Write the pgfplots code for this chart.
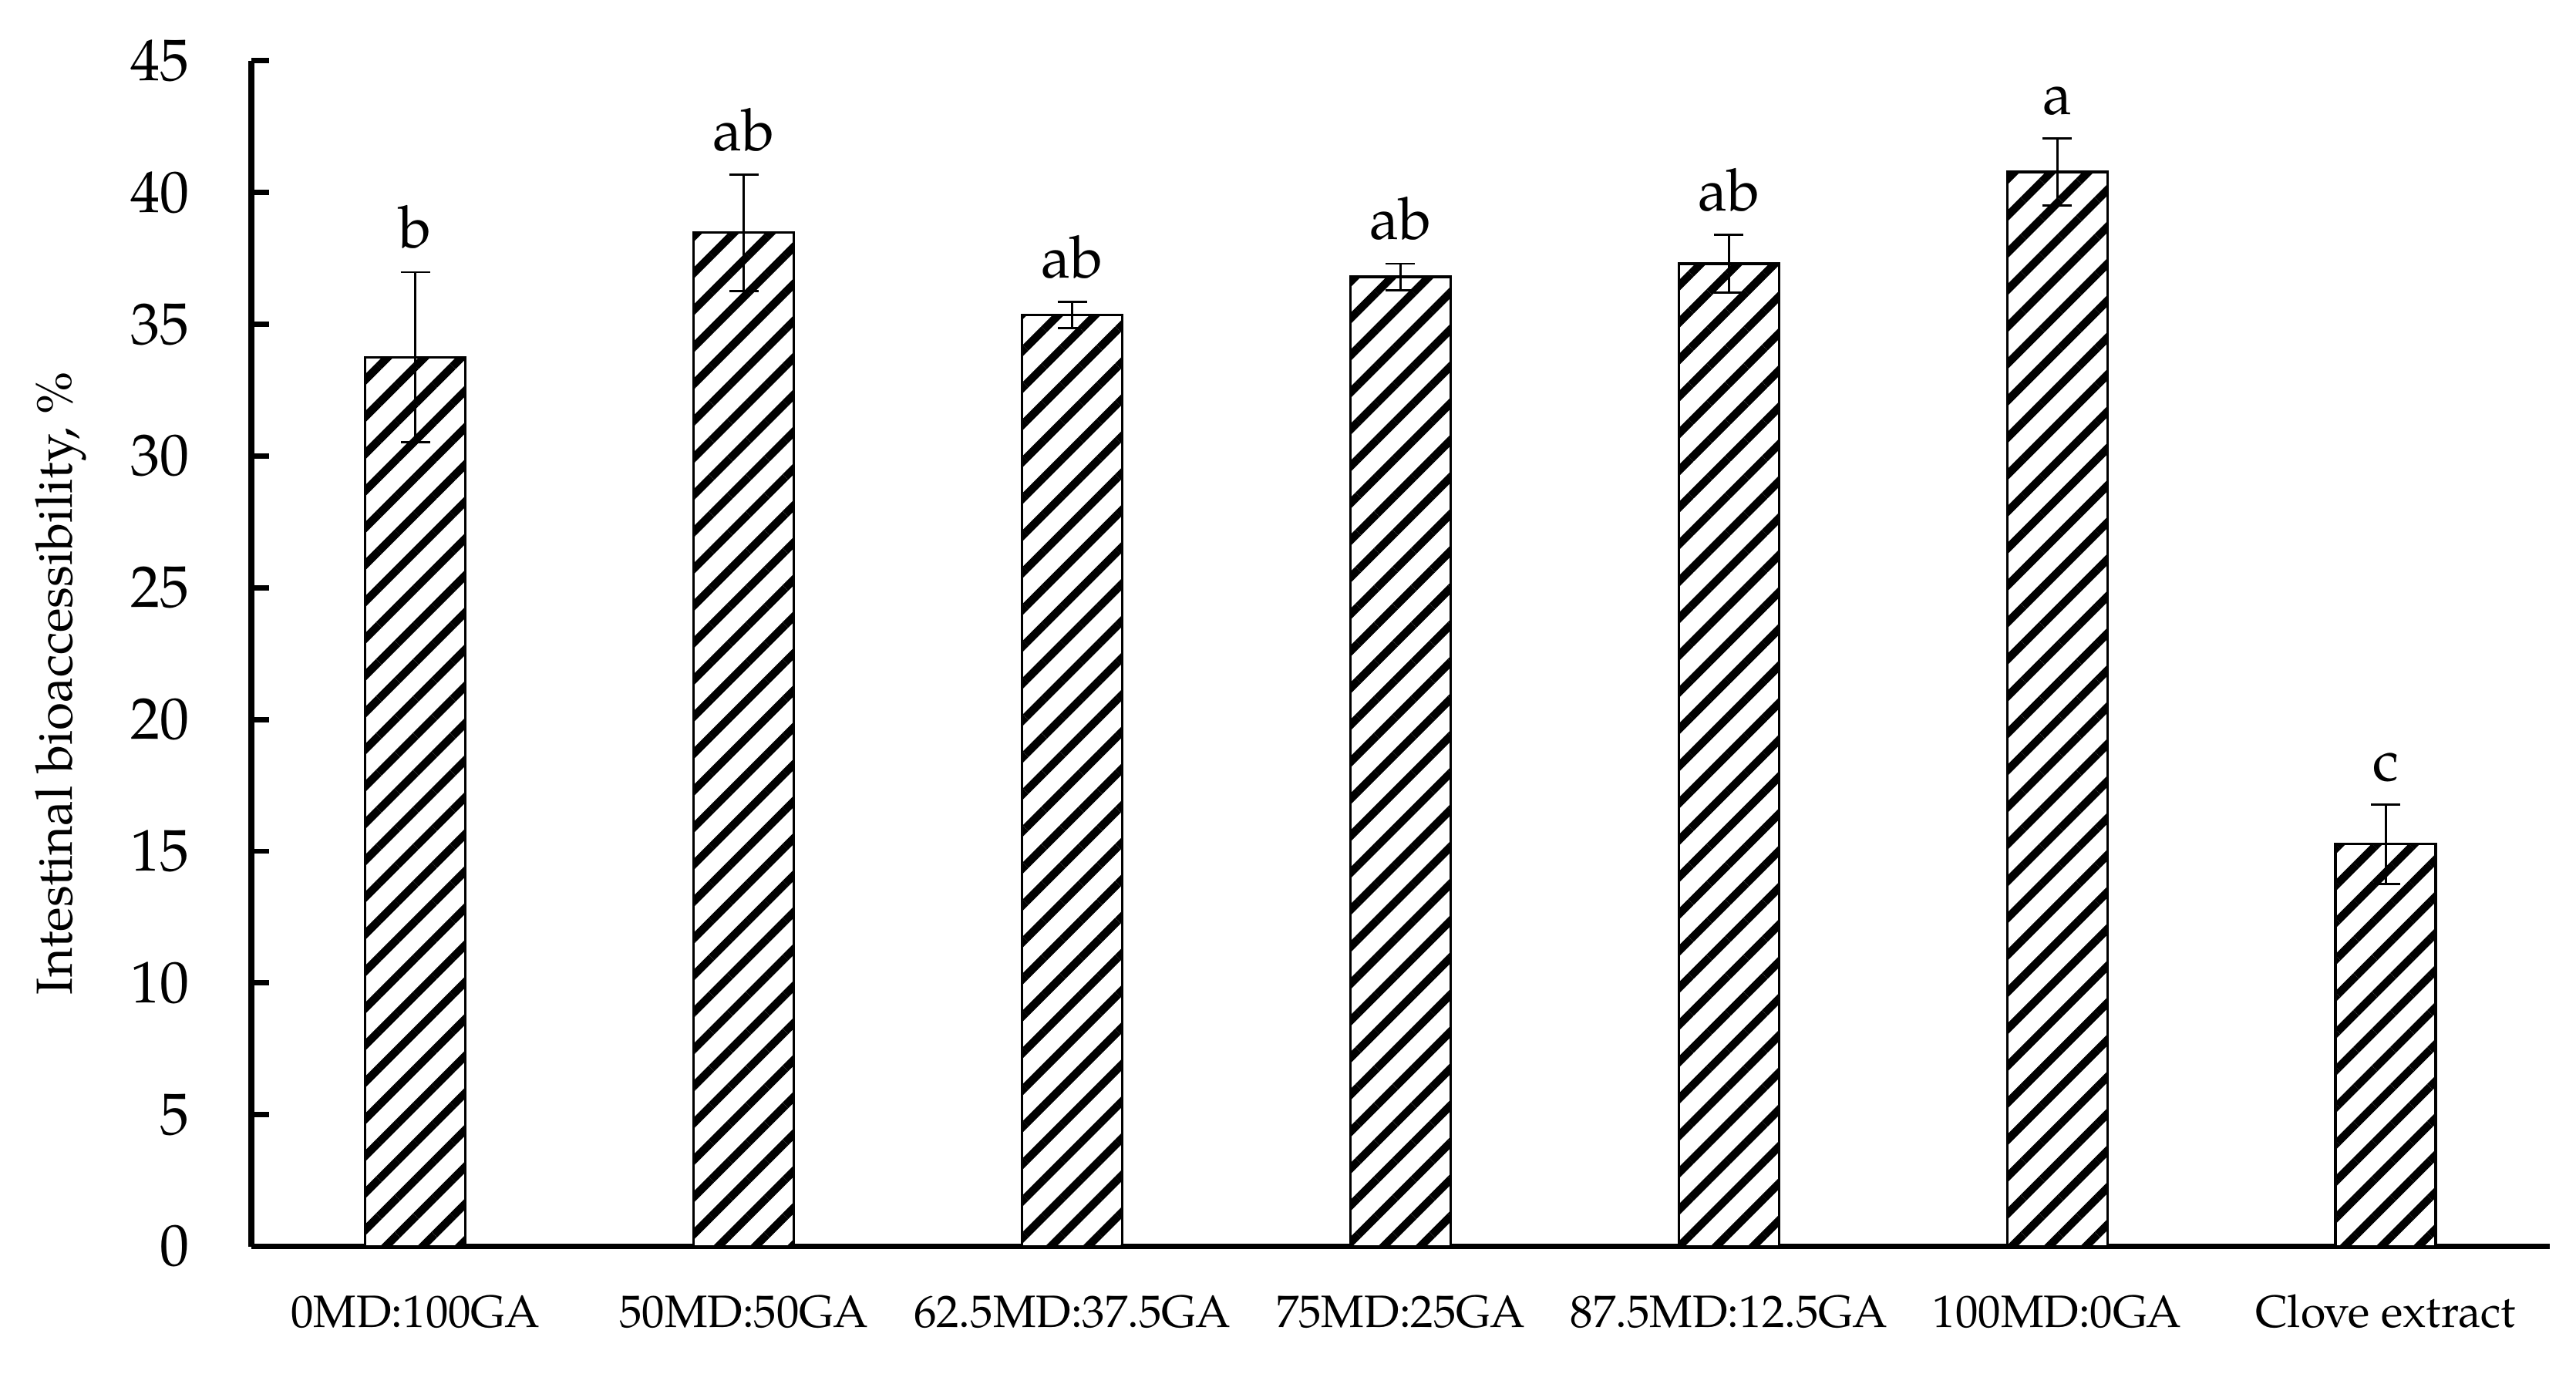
\documentclass[border=0pt]{standalone}
\usepackage{fontspec}
\setmainfont{TeX Gyre Pagella}
\usepackage{pgfplots}
\pgfplotsset{compat=1.18}
\usepackage{pgfplotstable}
\usetikzlibrary{patterns.meta}

% mean, SD and letter for each formulation
\pgfplotstableread{
x  y      err   lab
0  33.75  3.23  b
1  38.48  2.21  ab
2  35.35  0.50  ab
3  36.80  0.50  ab
4  37.30  1.10  ab
5  40.78  1.27  a
6  15.27  1.51  c
}\bioacc

\begin{document}
\begin{tikzpicture}
\begin{axis}[
  name=ax,
  scale only axis,
  width=431pt, height=222.3pt,
  xmin=-0.5, xmax=6.5,
  ymin=0, ymax=45,
  xtick=data,
  xticklabels={0MD:100GA,50MD:50GA,62.5MD:37.5GA,75MD:25GA,87.5MD:12.5GA,100MD:0GA,Clove extract},
  ytick={0,5,...,45},
  axis x line*=bottom, axis y line*=left,
  axis line style={line width=1.1pt, -},
  tick align=inside,
  major tick length=3.3pt,
  ytick style={line width=1pt, black},
  xtick style={draw=none},
  /pgf/number format/assume math mode=true,
  yticklabel style={font=\fontsize{11}{13}\selectfont, anchor=east, inner sep=0pt, xshift=-11.4pt},
  xticklabel style={font=\fontsize{8.5}{10}\selectfont, anchor=base, inner sep=0pt, yshift=-15.2pt},
  ylabel={Intestinal bioaccessibility, \%},
  ylabel style={font=\fontsize{9.5}{11}\selectfont, at={(axis description cs:-0.0828,0.475)}, anchor=center},
  clip=false,
]
\addplot[ybar, bar width=18.8pt, draw=black, line width=0.48pt,
  preaction={fill=white},
  pattern={Lines[angle=45, distance=4.9pt, line width=1.5pt]}, pattern color=black,
  error bars/.cd, y dir=both, y explicit,
  error bar style={line width=0.4pt, black},
  error mark options={rotate=90, mark size=2.75pt, line width=0.4pt, black}]
  table[x=x, y=y, y error=err] {\bioacc};
\addplot[draw=none, mark=none, nodes near coords, point meta=explicit symbolic,
  every node near coord/.append style={anchor=base, inner sep=0pt, yshift=4.5pt, font=\fontsize{11}{13}\selectfont, black}]
  table[x=x, y expr=\thisrow{y}+\thisrow{err}, meta=lab] {\bioacc};
\end{axis}
\pgfresetboundingbox
\path (ax.south west) ++(-47.1pt,-23.8pt) rectangle ++(483pt,257.5pt);
\end{tikzpicture}
\end{document}
